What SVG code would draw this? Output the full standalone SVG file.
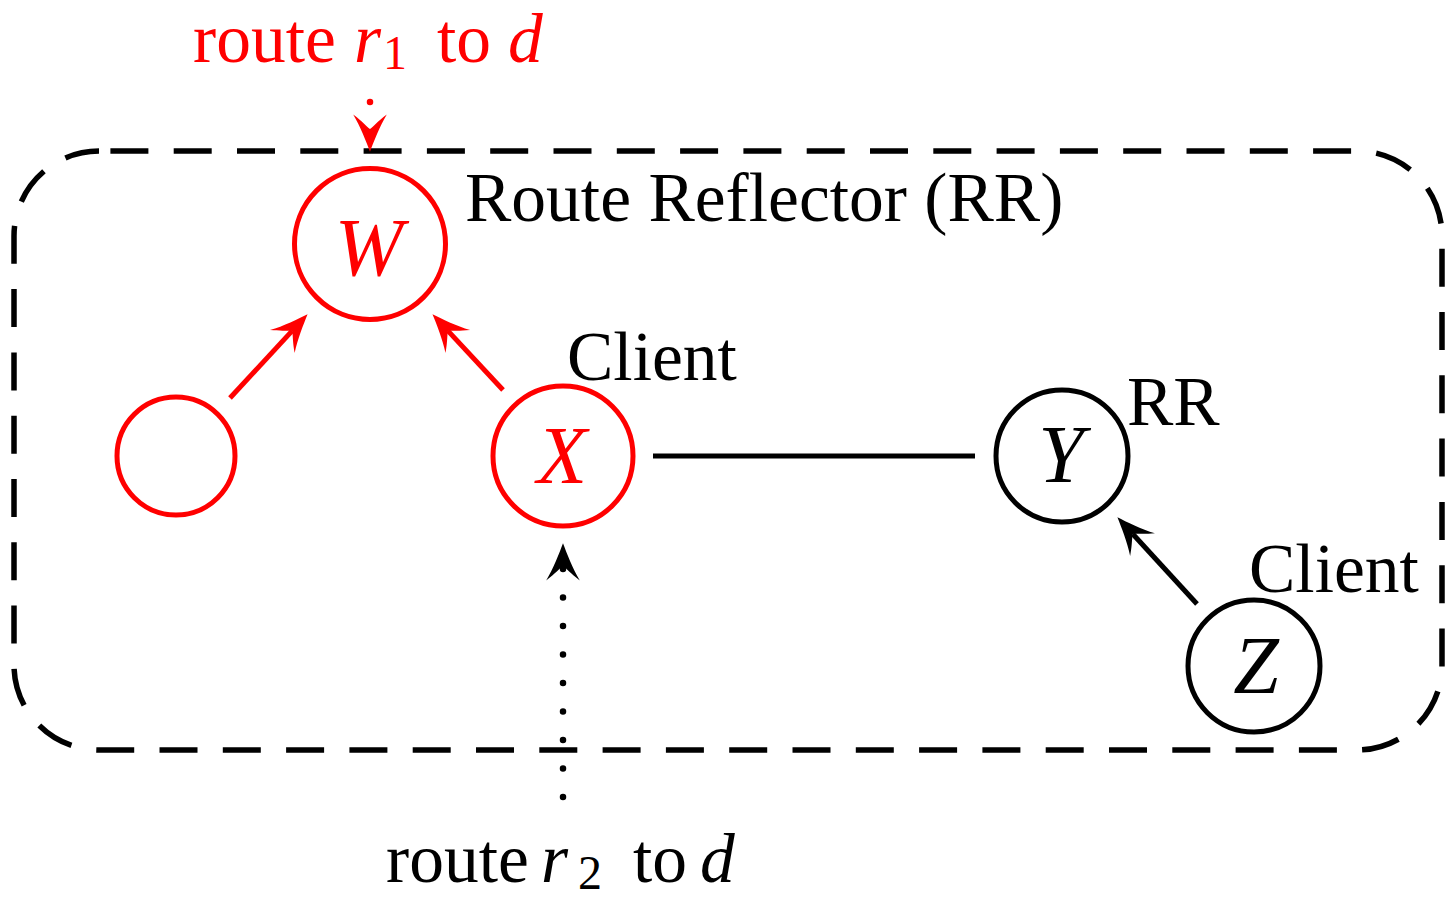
<svg xmlns="http://www.w3.org/2000/svg" width="1445" height="897" viewBox="0 0 1445 897">
  <style>
    .txt { font-family: "Liberation Serif", "Times New Roman", serif; font-size: 69.5px; }
    .math { font-family: "Liberation Serif", "Times New Roman", serif; font-style: italic; }
    .lbl { font-family: "Liberation Serif", "Times New Roman", serif; font-style: italic; font-size: 82px; text-anchor: middle; }
    .sub { font-family: "Liberation Serif", "Times New Roman", serif; font-size: 48px; }
    .node { fill: none; stroke-width: 5; }
    .red { stroke: #ff0000; }
    .blk { stroke: #000000; }
    .edge { fill: none; stroke-width: 5; stroke-linecap: butt; }
    .dots { fill: none; stroke-width: 6.5; stroke-linecap: round; stroke-dasharray: 0 28.5; }
  </style>
  <defs>
    <marker id="arrRed" markerUnits="userSpaceOnUse" orient="auto" refX="0" refY="0" markerWidth="60" markerHeight="60" viewBox="-20 -20 50 40" overflow="visible">
      <path d="M19 0 C11 -3 -2 -8 -12 -14 C-6 -6 -2 -3 0 0 C-2 3 -6 6 -12 14 C-2 8 11 3 19 0 Z" fill="#ff0000"/>
    </marker>
    <marker id="arrBlk" markerUnits="userSpaceOnUse" orient="auto" refX="0" refY="0" markerWidth="60" markerHeight="60" viewBox="-20 -20 50 40" overflow="visible">
      <path d="M19 0 C11 -3 -2 -8 -12 -14 C-6 -6 -2 -3 0 0 C-2 3 -6 6 -12 14 C-2 8 11 3 19 0 Z" fill="#000000"/>
    </marker>
  </defs>

  <!-- dashed AS boundary -->
  <g id="boundary">
    <rect x="14" y="151" width="1428" height="599" rx="85" ry="85" fill="none" stroke="#000" stroke-width="5.5" stroke-dasharray="38 25.3" stroke-dashoffset="-11.4"/>
  </g>

  <!-- connectors -->
  <g id="connectors">
    <line class="edge red" x1="230" y1="398" x2="292.1" y2="330.9" marker-end="url(#arrRed)"/>
    <line class="edge red" x1="503" y1="390" x2="448" y2="330.9" marker-end="url(#arrRed)"/>
    <line class="edge blk" x1="653" y1="456" x2="975" y2="456"/>
    <line class="edge blk" x1="1197" y1="604" x2="1132.8" y2="534" marker-end="url(#arrBlk)"/>
    <path class="dots blk" d="M563 797 L563 566" marker-end="url(#arrBlk)"/>
    <path class="dots red" d="M370 102 L370 129" marker-end="url(#arrRed)"/>
  </g>

  <!-- nodes -->
  <g id="node-W">
    <circle class="node red" cx="370" cy="244" r="75.5"/>
    <text class="lbl" x="369" y="275" fill="#ff0000">W</text>
  </g>
  <g id="node-peer">
    <circle class="node red" cx="176" cy="456" r="59"/>
  </g>
  <g id="node-X">
    <circle class="node red" cx="563" cy="456" r="70"/>
    <text class="lbl" x="562" y="483" fill="#ff0000">X</text>
  </g>
  <g id="node-Y">
    <circle class="node blk" cx="1062" cy="456" r="66"/>
    <text class="lbl" x="1061" y="482" fill="#000">Y</text>
  </g>
  <g id="node-Z">
    <circle class="node blk" cx="1254" cy="666" r="66"/>
    <text class="lbl" x="1256" y="693" fill="#000">Z</text>
  </g>

  <!-- role labels -->
  <g id="labels">
    <text class="txt" x="465" y="221" fill="#000">Route Reflector (RR)</text>
    <text class="txt" x="567" y="380" fill="#000">Client</text>
    <text class="txt" x="1127" y="425" fill="#000">RR</text>
    <text class="txt" x="1249" y="592" fill="#000">Client</text>
  </g>

  <!-- route announcements -->
  <g id="route-r1" fill="#ff0000">
    <text class="txt" x="193" y="62">route</text>
    <text class="txt math" x="354" y="62">r</text>
    <text class="sub" x="383" y="69">1</text>
    <text class="txt" x="437" y="62">to</text>
    <text class="txt math" x="508" y="62">d</text>
  </g>
  <g id="route-r2" fill="#000">
    <text class="txt" x="386" y="882">route</text>
    <text class="txt math" x="541" y="882">r</text>
    <text class="sub" x="578" y="889">2</text>
    <text class="txt" x="633" y="882">to</text>
    <text class="txt math" x="700" y="882">d</text>
  </g>
</svg>
